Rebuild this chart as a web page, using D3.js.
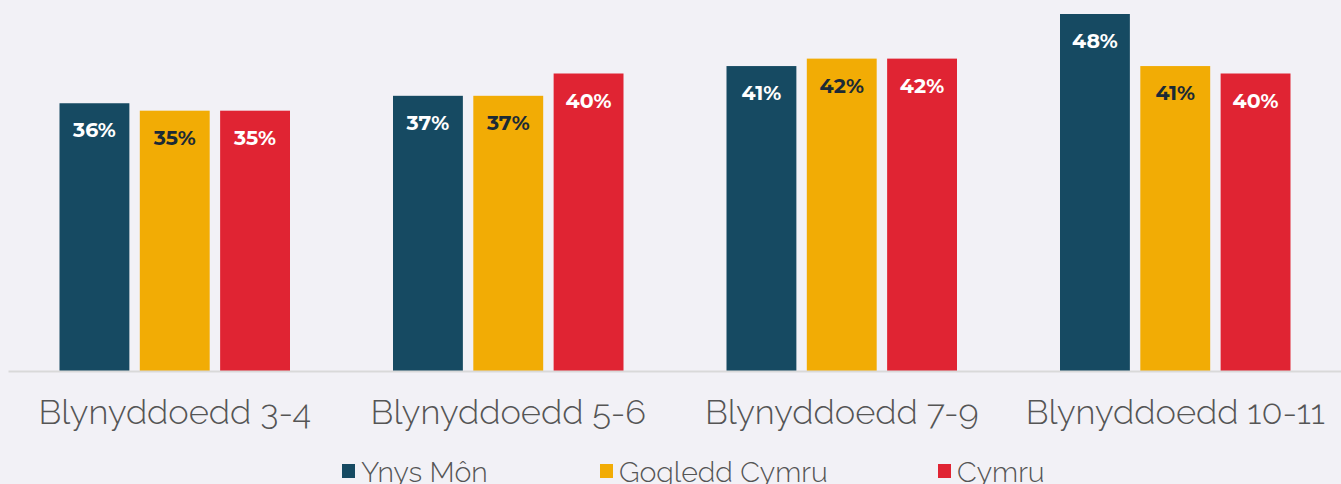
<!doctype html>
<html>
  <head>
    <meta charset="utf-8">
    <script src="https://d3js.org/d3.v7.min.js"></script>
    <style>
      body { margin: 0; background: #f2f1f6; overflow: hidden; }
    </style>
  </head>
  <body>
    <script>
    var categories = ["Blynyddoedd 3-4", "Blynyddoedd 5-6", "Blynyddoedd 7-9", "Blynyddoedd 10-11"];
    var seriesNames = ["Ynys Môn", "Gogledd Cymru", "Cymru"];
    var ynysMon = [36, 37, 41, 48];
    var gogleddCymru = [35, 37, 42, 41];
    var cymru = [35, 40, 42, 40];

    var colors = ["#164a62", "#f2ac05", "#e02433"];
    var labelColors = ["#ffffff", "#1b2a35", "#ffffff"];

    var width = 1341;
    var height = 484;
    var baseline = 371;

    var data = [];
    categories.forEach(function(c, i) {
      data.push({cat: c, series: 0, value: ynysMon[i]});
      data.push({cat: c, series: 1, value: gogleddCymru[i]});
      data.push({cat: c, series: 2, value: cymru[i]});
    });

    var svg = d3.select("body")
              .append("svg")
              .attr("width", width)
              .attr("height", height);

    var x0 = d3.scaleBand()
              .domain(categories)
              .range([8, 1342])
              .paddingInner(0)
              .paddingOuter(0);

    var x1 = d3.scaleBand()
              .domain([0, 1, 2])
              .range([51.5, x0.bandwidth() - 51.5])
              .paddingInner(0.13)
              .paddingOuter(0);

    var y = d3.scaleLinear()
              .domain([0, 48])
              .range([baseline, 14]);

    // bars
    svg.selectAll('.bar')
      .data(data)
      .enter()
      .append('rect')
        .attr('class', 'bar')
        .attr('x', function(d) { return x0(d.cat) + x1(d.series); })
        .attr('y', function(d) { return y(d.value); })
        .attr('width', x1.bandwidth())
        .attr('height', function(d) { return baseline - y(d.value); })
        .attr('fill', function(d) { return colors[d.series]; });

    // value labels
    svg.selectAll('.val')
      .data(data)
      .enter()
      .append('text')
        .attr('class', 'val')
        .attr('x', function(d) { return x0(d.cat) + x1(d.series) + x1.bandwidth() / 2; })
        .attr('y', function(d) { return y(d.value) + 34; })
        .attr('text-anchor', 'middle')
        .attr('font-family', 'Montserrat, "Open Sans", sans-serif')
        .attr('font-weight', 'bold')
        .attr('font-size', '20.5px')
        .attr('fill', function(d) { return labelColors[d.series]; })
        .text(function(d) { return d.value + '%'; });

    // axis
    var xAxis = d3.axisBottom(x0).tickSize(0).tickPadding(29);
    var ax = svg.append('g')
      .attr('transform', 'translate(0,' + baseline + ')')
      .call(xAxis);
    ax.select('.domain').attr('stroke', '#d9d9d9').attr('stroke-width', 2);
    ax.selectAll('text')
      .attr('font-family', 'Raleway, Lato, sans-serif')
      .attr('font-weight', 300)
      .attr('font-size', '34.5px')
      .attr('fill', '#555555');

    // legend
    var legendX = [342, 600, 938];
    var legend = svg.selectAll('.legend')
      .data(seriesNames)
      .enter()
      .append('g')
        .attr('class', 'legend')
        .attr('transform', function(d, i) { return 'translate(' + legendX[i] + ',464)'; });

    legend.append('rect')
      .attr('width', 13)
      .attr('height', 14)
      .attr('fill', function(d, i) { return colors[i]; });

    legend.append('text')
      .attr('x', 19)
      .attr('y', 18)
      .attr('font-family', 'Raleway, Lato, sans-serif')
      .attr('font-weight', 300)
      .attr('font-size', '28.5px')
      .attr('fill', '#555555')
      .text(function(d) { return d; });
    </script>
  </body>
</html>
